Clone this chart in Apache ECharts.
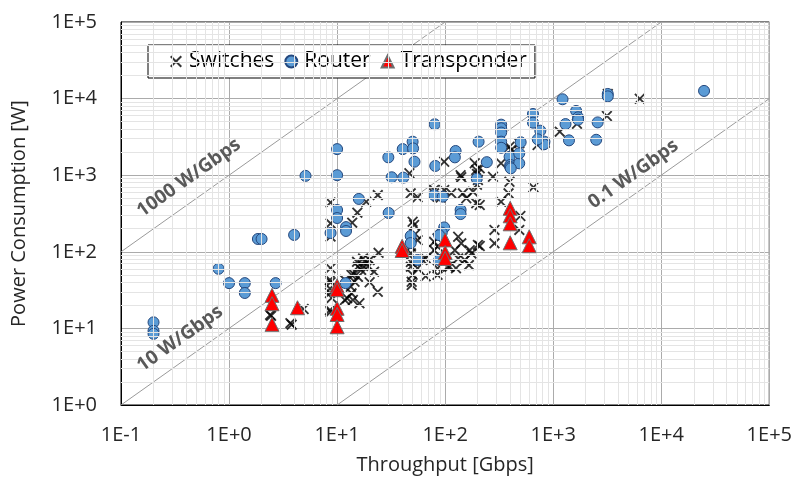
<!DOCTYPE html>
<html>
<head>
<meta charset="utf-8">
<script src="https://cdn.jsdelivr.net/npm/echarts@6/dist/echarts.min.js"></script>
<style>
  html, body { margin: 0; padding: 0; background: #fff; }
  #chart { width: 795px; height: 480px; }
</style>
</head>
<body>
<div id="chart"></div>
<script>
// throughput [Gbps], power [W]
var switchData = [
    [2.4, 15], [2.45, 14.6], [3.7, 11.7], [3.8, 11.2], [4.9, 17.9],
    [8.7, 440], [8.7, 235], [8.7, 158], [8.7, 61], [8.6, 43], [8.7, 40], [8.6, 33], [8.6, 29], [8.9, 25], [8.6, 17.4], [8.7, 16.4],
    [11.8, 23.5], [11.8, 43], [12.4, 24.7], [13.6, 28.7], [13.4, 35], [14.5, 40.6], [15.6, 47], [16.7, 58], [19.3, 64], [17.4, 82],
    [24.2, 97], [16.1, 21.3], [23.8, 30], [13.8, 240], [15.4, 324], [18.6, 450], [23.8, 550], [15.3, 74], [18.1, 74], [20, 78],
    [14.3, 51], [17.4, 65.5], [15.6, 64], [13.6, 50], [14, 23.5], [20, 40], [22, 55],
    [46.7, 1060], [48, 580], [55.6, 515], [50, 247], [51.6, 224], [53, 171], [48.2, 117], [48.2, 95.5], [51.6, 78], [48.2, 64],
    [50, 50], [49, 40.6], [49, 36.8], [61.7, 78], [48.2, 73.6], [55.6, 61], [66, 48], [55.6, 142],
    [79, 580], [85, 525], [91, 510], [98, 1500], [79, 135], [85, 150], [85, 117], [79, 105], [66, 82], [98, 78], [85, 50],
    [106, 64], [79, 640], [98, 640], [85, 61],
    [139, 1000], [141, 940], [188, 1430], [194, 1170], [197, 1040], [201, 866], [197, 750], [114, 580], [146, 580], [157, 500],
    [181, 610], [194, 430], [132, 157], [141, 129], [169, 105], [201, 123], [123, 105], [132, 82], [152, 78], [175, 95],
    [110, 64], [166, 67], [126, 61],
    [277, 955], [329, 1430], [394, 2350], [408, 2130], [486, 2610], [394, 820], [386, 580], [329, 450], [656, 695], [286, 193],
    [286, 129], [486, 193], [497, 293], [717, 2480], [209, 119], [209, 1230], [209, 408],
    [1150, 3700], [3140, 5930], [6330, 9970], [3200, 11500], [1660, 4700], [836, 2650]
];
var routerData = [
    [0.2, 12], [0.2, 9.3], [0.2, 8.5], [0.8, 60], [1.0, 39], [1.4, 39], [1.4, 29], [2.7, 39], [1.85, 147], [2.0, 147], [4.0, 166], [5.1, 980],
    [10, 2190], [10, 1000], [10, 351], [10, 276], [8.7, 176], [12.1, 210], [12.1, 187], [12, 39], [15.9, 490], [30, 321], [48, 161], [48, 130], [55.5, 78],
    [98, 208], [93, 178], [88, 165], [88, 78], [79, 550], [95, 525], [139, 352], [139, 311], [80, 4620], [81, 1320], [40.5, 2190], [50, 2740],
    [50.5, 2240], [52, 1500], [41, 930], [32, 940], [29.8, 1710],
    [125, 2070], [123, 1710], [204, 2740], [243, 1480], [196, 900], [330, 4570], [330, 4100], [330, 3600], [330, 2740], [330, 2280],
    [500, 2690], [395, 1740], [400, 1360], [400, 1280], [485, 1430], [405, 1230], [485, 1930],
    [650, 6300], [650, 4850], [760, 3810], [830, 2740], [820, 2530], [720, 2940], [1220, 9800], [1300, 4650], [1400, 2850], [1630, 6900],
    [1700, 5700], [1700, 5300], [3200, 11500], [3200, 10700], [2580, 4890], [2500, 2900], [24900, 12600]
];
var transponderData = [
    [2.5, 27], [2.5, 21], [2.5, 11.3], [4.3, 18.6], [10, 36], [10, 32], [10, 18.3], [10, 15.2], [10, 10.5],
    [40, 118], [40, 104], [100, 143], [100, 98], [100, 82], [400, 370], [400, 295], [400, 232], [400, 131], [600, 157], [600, 120]
];
// W/Gbps guide lines
var ratios = [1000, 10, 0.1];
var ratioNames = ['1000 W/Gbps', '10 W/Gbps', '0.1 W/Gbps'];
var labelAt = [0.55, 0.45, 6800];
var labelGap = [21, 20, 17];

var xMin = 0.1, xMax = 1e5, yMin = 1, yMax = 1e5;
var FONT = '"Open Sans", sans-serif';

function fmt(v) {
    var e = Math.round(Math.log10(v));
    return '1E' + (e >= 0 ? '+' : '') + e;
}

// minor grid values 2..9 per decade
var minorX = [], minorY = [];
for (var d = -1; d < 5; d++) for (var m = 2; m < 10; m++) minorX.push({xAxis: m * Math.pow(10, d)});
for (var d2 = 0; d2 < 5; d2++) for (var m2 = 2; m2 < 10; m2++) minorY.push({yAxis: m2 * Math.pow(10, d2)});

var series = [{
    type: 'line',
    data: [],
    silent: true,
    z: 1,
    markLine: {
        silent: true,
        symbol: 'none',
        label: {show: false},
        lineStyle: {color: '#e4e4e4', width: 1, type: 'solid', opacity: 1},
        emphasis: {disabled: true},
        data: minorX.concat(minorY)
    }
}];

ratios.forEach(function (r) {
    var x0 = Math.max(xMin, yMin / r), x1 = Math.min(xMax, yMax / r);
    series.push({
        type: 'line',
        data: [[x0, r * x0], [x1, r * x1]],
        showSymbol: false,
        silent: true,
        z: 2,
        lineStyle: {color: '#9a9a9a', width: 1}
    });
});

var xPath = 'path://M1.2,0L5,3.8L8.8,0L10,1.2L6.2,5L10,8.8L8.8,10L5,6.2L1.2,10L0,8.8L3.8,5L0,1.2Z';

series.push({
    name: 'Switches',
    type: 'scatter',
    data: switchData,
    symbol: xPath,
    symbolSize: 11,
    z: 3,
    itemStyle: {color: '#000'}
});
series.push({
    name: 'Router',
    type: 'scatter',
    data: routerData,
    symbol: 'circle',
    symbolSize: 11,
    z: 4,
    itemStyle: {color: '#5b9bd5', borderColor: '#24487e', borderWidth: 1, opacity: 1}
});
series.push({
    name: 'Transponder',
    type: 'scatter',
    data: transponderData,
    symbol: 'triangle',
    symbolSize: [14, 14],
    z: 5,
    itemStyle: {color: '#ff0000', borderColor: '#6e6e6e', borderWidth: 1, opacity: 1}
});

var myChart = echarts.init(document.getElementById('chart'), null, {renderer: 'canvas'});
var option = {
    animation: false,
    backgroundColor: '#fff',
    textStyle: {fontFamily: FONT},
    grid: {
        left: 121, right: 22, top: 22, bottom: 75,
        show: true, borderColor: '#000', borderWidth: 1
    },
    legend: {
        data: ['Switches', 'Router', 'Transponder'],
        left: 148,
        top: 45,
        backgroundColor: '#fff',
        borderColor: '#000',
        borderWidth: 1,
        borderRadius: 0,
        padding: [6, 8, 6, 22],
        itemGap: 10,
        itemWidth: 12,
        itemHeight: 12,
        textStyle: {fontSize: 21, color: '#000', fontFamily: FONT, padding: [0, 0, 0, 2]}
    },
    xAxis: {
        type: 'log',
        logBase: 10,
        min: xMin,
        max: xMax,
        name: 'Throughput [Gbps]',
        nameLocation: 'middle',
        nameGap: 50,
        nameTextStyle: {fontSize: 20, color: '#262626', fontFamily: FONT},
        axisLine: {show: true, lineStyle: {color: '#000', width: 1}},
        axisTick: {show: false},
        axisLabel: {formatter: fmt, fontSize: 20, color: '#262626', margin: 20, fontFamily: FONT},
        splitLine: {show: true, lineStyle: {color: '#ababab', width: 1}}
    },
    yAxis: {
        type: 'log',
        logBase: 10,
        min: yMin,
        max: yMax,
        name: 'Power Consumption [W]',
        nameLocation: 'middle',
        nameGap: 92,
        nameTextStyle: {fontSize: 20, color: '#262626', fontFamily: FONT},
        axisLine: {show: true, lineStyle: {color: '#000', width: 1}},
        axisTick: {show: false},
        axisLabel: {formatter: fmt, fontSize: 20, color: '#262626', margin: 24, fontFamily: FONT},
        splitLine: {show: true, lineStyle: {color: '#ababab', width: 1}}
    },
    series: series
};
myChart.setOption(option);

// rotated guide-line labels, anchored on the lines
var graphics = [];
ratios.forEach(function (r, i) {
    var xa = labelAt[i];
    var p0 = myChart.convertToPixel({gridIndex: 0}, [xa, r * xa]);
    var p1 = myChart.convertToPixel({gridIndex: 0}, [xa * 10, r * xa * 10]);
    var ang = Math.atan2(p0[1] - p1[1], p1[0] - p0[0]);
    var gap = labelGap[i];
    graphics.push({
        type: 'text',
        x: p0[0] - Math.sin(ang) * gap,
        y: p0[1] - Math.cos(ang) * gap,
        rotation: ang,
        z: 10,
        style: {
            text: ratioNames[i],
            fill: '#595959',
            font: 'bold 19px ' + FONT,
            align: 'center',
            verticalAlign: 'middle'
        }
    });
});
myChart.setOption({graphic: graphics});
</script>
</body>
</html>
